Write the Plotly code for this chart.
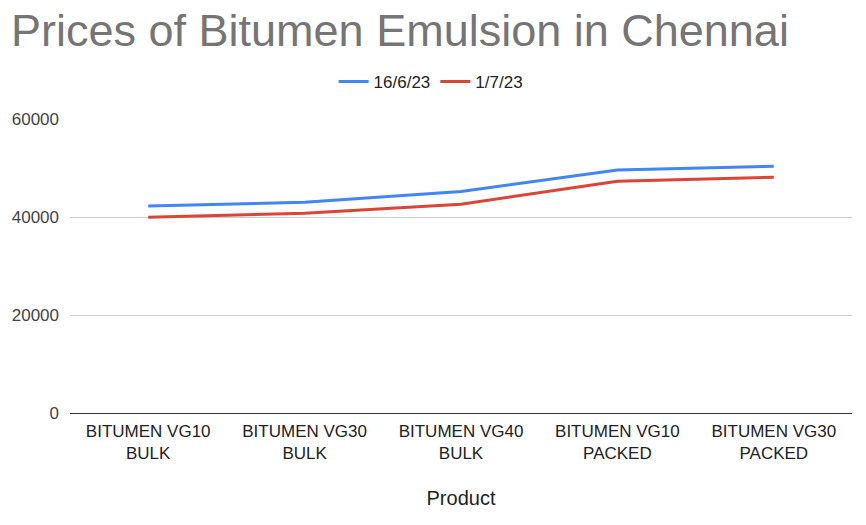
import plotly.graph_objects as go

# data
products = [
    "BITUMEN VG10<br>BULK",
    "BITUMEN VG30<br>BULK",
    "BITUMEN VG40<br>BULK",
    "BITUMEN VG10<br>PACKED",
    "BITUMEN VG30<br>PACKED",
]
prices_jun16 = [42250, 43000, 45200, 49600, 50350]
prices_jul01 = [39950, 40750, 42600, 47300, 48100]
y_ticks = [0, 20000, 40000, 60000]

fig = go.Figure()
fig.add_trace(go.Scatter(
    x=products, y=prices_jun16, name="16/6/23", mode="lines",
    line=dict(color="#4285F4", width=3),
))
fig.add_trace(go.Scatter(
    x=products, y=prices_jul01, name="1/7/23", mode="lines",
    line=dict(color="#DB4437", width=3),
))

# the page body adds an 8px offset, so the margins are shifted to compensate
fig.update_layout(
    width=866, height=525,
    paper_bgcolor="white", plot_bgcolor="white",
    font=dict(family="Liberation Sans, Arial, sans-serif", size=17, color="#444444"),
    title=dict(
        text="Prices of Bitumen Emulsion in Chennai",
        x=0.0, xanchor="left", y=0.958, yanchor="middle",
        pad=dict(l=3),
        font=dict(size=45, color="#757575"),
    ),
    legend=dict(
        orientation="h", xref="container", x=0.488, xanchor="center",
        yref="container", y=0.859, yanchor="middle",
        font=dict(size=17, color="#222222"), itemwidth=30,
    ),
    margin=dict(l=62, r=22, t=111, b=120, autoexpand=False),
    xaxis=dict(
        range=[-0.5, 4.5], automargin=False,
        showgrid=False, zeroline=False, showline=False,
        tickfont=dict(size=17, color="#222222"),
        ticklabelstandoff=6,
        title=dict(text="Product", font=dict(size=20, color="#222222"), standoff=28),
    ),
    yaxis=dict(
        range=[0, 60000], tickvals=y_ticks, ticktext=[str(v) for v in y_ticks],
        automargin=False,
        showgrid=True, gridcolor="#cccccc", gridwidth=1,
        zeroline=True, zerolinecolor="#333333", zerolinewidth=1,
        showline=False, ticklabelstandoff=10,
        tickfont=dict(size=17, color="#444444"),
    ),
    showlegend=True,
)

fig.write_html("out.html")
